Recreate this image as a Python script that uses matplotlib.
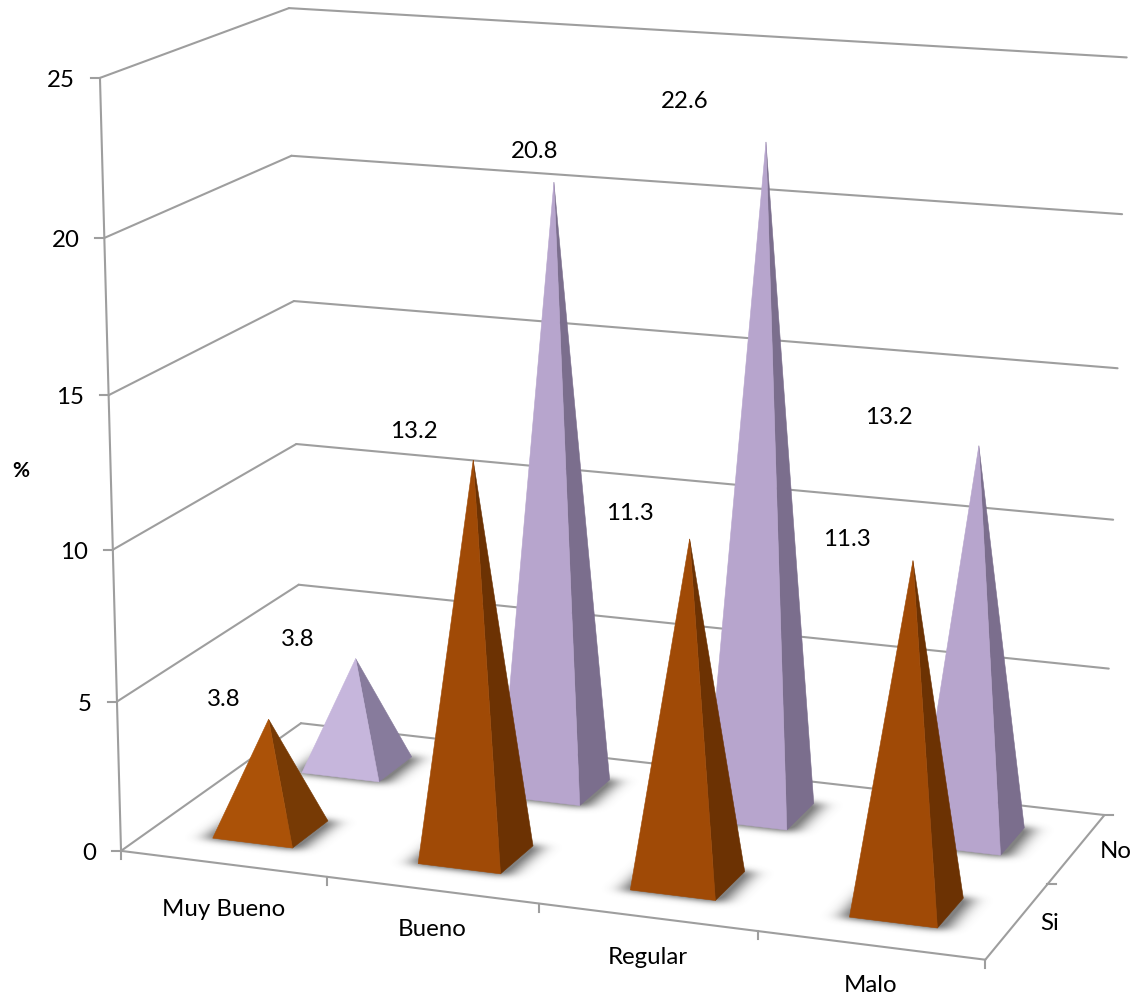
import numpy as np
import matplotlib

matplotlib.use("Agg")
import matplotlib.pyplot as plt
from matplotlib.patches import Polygon
from matplotlib.path import Path

categories = ["Muy Bueno", "Bueno", "Regular", "Malo"]
series_names = ["Si", "No"]
si_values = [3.8, 13.2, 11.3, 11.3]
no_values = [3.8, 20.8, 22.6, 13.2]
value_ticks = [0, 5, 10, 15, 20, 25]

# label anchor points in pixels, the chart has them placed by hand
si_label_pos = [(224, 699), (414, 431), (630, 512), (847, 539)]
no_label_pos = [(298, 639), (535, 151), (685, 100), (889, 416)]
cat_label_pos = [(224, 908), (432, 929), (648, 957), (871, 984)]
series_label_pos = [(1050, 922), (1116, 850)]

GRID = "#9e9e9e"
FONT = "Lato"
FS = 17.3
TIP = 0.985  # the thin tips get lost in the original rendering

# (category, series, value) -> pixel, fitted on the frame corners of the picture
calib = [
    ((0, 0, 0), (122, 851)), ((4, 0, 0), (985, 961)),
    ((4, 2, 0), (1105, 814)), ((0, 2, 0), (301, 724)),
    ((0, 0, 5), (118, 700)), ((0, 2, 5), (298, 585)), ((4, 2, 5), (1108, 668)),
    ((0, 0, 10), (110, 550)), ((0, 2, 10), (297, 445)), ((4, 2, 10), (1113, 520)),
    ((0, 0, 15), (108, 395)), ((0, 2, 15), (295, 300)), ((4, 2, 15), (1118, 368)),
    ((0, 0, 20), (105, 238)), ((0, 2, 20), (291, 156)), ((4, 2, 20), (1122, 214)),
    ((0, 0, 25), (101, 78)), ((0, 2, 25), (288, 8)), ((4, 2, 25), (1127, 58)),
]


def fit_camera(points):
    rows, rhs = [], []
    for (x, y, z), (u, v) in points:
        rows.append([x, y, z, 1, 0, 0, 0, 0, -u * x, -u * y, -u * z])
        rows.append([0, 0, 0, 0, x, y, z, 1, -v * x, -v * y, -v * z])
        rhs += [u, v]
    sol = np.linalg.lstsq(np.array(rows, float), np.array(rhs, float), rcond=None)[0]
    return np.append(sol, 1).reshape(3, 4)


CAM = fit_camera(calib)


def proj(x, y, z):
    p = CAM @ np.array([x, y, z, 1.0])
    return p[0] / p[2], p[1] / p[2]


def line3d(ax, a, b, lw=1.5, color=GRID):
    pa, pb = proj(*a), proj(*b)
    ax.plot([pa[0], pb[0]], [pa[1], pb[1]], color=color, lw=lw,
            solid_capstyle="round", zorder=1)


def gauss(sigma):
    t = np.arange(-int(3 * sigma), int(3 * sigma) + 1)
    g = np.exp(-0.5 * (t / sigma) ** 2)
    return g / g.sum()


def soft_shadow(ax, corners, z):
    # blurred base polygon, wide sideways and tight up and down
    pts = np.array(corners)
    x0, y0 = np.floor(pts.min(axis=0)) - 40
    x1, y1 = np.ceil(pts.max(axis=0)) + 40
    xs, ys = np.arange(x0, x1), np.arange(y0, y1)
    gx, gy = np.meshgrid(xs, ys)
    inside = Path(pts).contains_points(np.c_[gx.ravel(), gy.ravel()])
    mask = inside.reshape(gx.shape).astype(float)
    mask = np.apply_along_axis(lambda r: np.convolve(r, gauss(9), mode="same"), 1, mask)
    mask = np.apply_along_axis(lambda c: np.convolve(c, gauss(3), mode="same"), 0, mask)
    rgba = np.zeros(mask.shape + (4,))
    rgba[..., :3] = 0.3
    rgba[..., 3] = np.clip(mask * 0.95, 0, 0.7)
    ax.imshow(rgba, extent=(x0, x1, y1, y0), aspect="auto", interpolation="bilinear", zorder=z)


def pyramid(ax, cat, ser, value, front, side, z):
    cx, cy = cat + 0.508, ser + 0.5
    hx, hy = 0.196, 0.2
    apex = proj(cx, cy, value * TIP)
    fl = proj(cx - hx, cy - hy, 0)
    fr = proj(cx + hx, cy - hy, 0)
    br = proj(cx + hx, cy + hy, 0)
    sx, sy = hx * 1.2, hy * 1.06
    soft_shadow(ax, [proj(cx - sx, cy - sy, 0), proj(cx + sx, cy - sy, 0),
                     proj(cx + sx, cy + sy, 0), proj(cx - sx, cy + sy, 0)], z)
    ax.add_patch(Polygon([apex, fr, br], closed=True, fc=side, ec=side, lw=0.4, zorder=z + 1))
    ax.add_patch(Polygon([apex, fl, fr], closed=True, fc=front, ec=front, lw=0.4, zorder=z + 1))


fig = plt.figure(figsize=(11.38, 10.01), dpi=100)
ax = fig.add_axes([0, 0, 1, 1])

# walls
for v in value_ticks:
    line3d(ax, (0, 0, v), (0, 2, v))
    line3d(ax, (0, 2, v), (4, 2, v))
    tx, ty = proj(0, 0, v)
    ax.plot([tx - 9, tx], [ty, ty], color=GRID, lw=1.5, zorder=1)
    ax.text(tx - 25, ty + 2.5, str(v), ha="right", va="center", family=FONT,
            fontsize=FS, color="black")

# floor edges and the value axis
line3d(ax, (0, 0, 0), (0, 0, 25))
line3d(ax, (0, 0, 0), (4, 0, 0))
line3d(ax, (4, 0, 0), (4, 2, 0))
for i in range(len(categories) + 1):
    tx, ty = proj(i, 0, 0)
    ax.plot([tx, tx], [ty, ty + 8], color=GRID, lw=1.5, zorder=1)
for j in range(1, len(series_names) + 1):
    tx, ty = proj(4, j, 0)
    ax.plot([tx, tx + 9], [ty, ty], color=GRID, lw=1.5, zorder=1)

# back row first, front row over it
si_front = ["#ab5208", "#a04a06", "#a04a06", "#a04a06"]
si_side = ["#773a05", "#6c3203", "#6c3203", "#6c3203"]
no_front = ["#c6b6dc", "#b7a5cd", "#b7a5cd", "#b7a5cd"]
no_side = ["#877b9c", "#7b6e8d", "#7b6e8d", "#7b6e8d"]
for i, v in enumerate(no_values):
    pyramid(ax, i, 1, v, no_front[i], no_side[i], 3 + i)
for i, v in enumerate(si_values):
    pyramid(ax, i, 0, v, si_front[i], si_side[i], 10 + i)

for v, (x, y) in zip(si_values + no_values, si_label_pos + no_label_pos):
    ax.text(x, y + 1, f"{v:.1f}", ha="center", va="center", family=FONT, fontsize=FS,
            color="black", zorder=20)
for name, (x, y) in zip(categories, cat_label_pos):
    ax.text(x, y + 1, name, ha="center", va="center", family=FONT, fontsize=FS, color="black")
for name, (x, y) in zip(series_names, series_label_pos):
    ax.text(x, y + 1, name, ha="center", va="center", family=FONT, fontsize=FS, color="black")
ax.text(21, 471, "%", ha="center", va="center", family=FONT, fontsize=15,
        fontweight="bold", color="black")

ax.set_xlim(0, 1138)
ax.set_ylim(1001, 0)
ax.axis("off")

fig.savefig("out.png", dpi=100)
